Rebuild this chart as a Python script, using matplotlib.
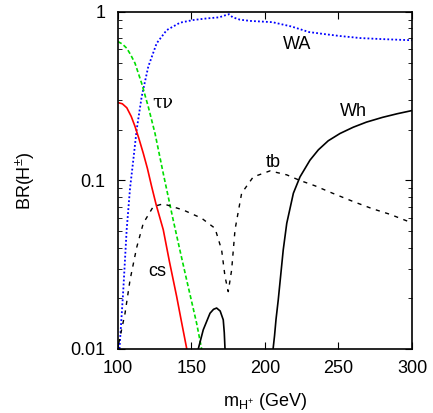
import numpy as np
import matplotlib
matplotlib.use("Agg")
import matplotlib.pyplot as plt

plt.rcParams['font.family'] = ['Liberation Sans', 'DejaVu Sans']
plt.rcParams['mathtext.fontset'] = 'custom'
plt.rcParams['mathtext.rm'] = 'Liberation Sans'
plt.rcParams['mathtext.it'] = 'Liberation Sans:italic'

# branching ratios vs charged Higgs mass (GeV)
cs_m = [100, 103, 106, 109, 111.6, 114, 117.2, 120, 122.9, 126, 130.8, 135, 139.9, 143, 146.7, 149]
cs_br = [0.29, 0.285, 0.27, 0.24, 0.209, 0.18, 0.145, 0.118, 0.092, 0.0716, 0.051, 0.033, 0.0205, 0.0148, 0.0101, 0.008]

taunu_m = [100, 103, 105.9, 108.5, 111.6, 116.1, 120.6, 125.2, 130.8, 137.6, 142, 146.7, 153.5, 156.9, 158]
taunu_br = [0.667, 0.645, 0.61, 0.56, 0.496, 0.377, 0.274, 0.19, 0.11, 0.058, 0.039, 0.0257, 0.0142, 0.010, 0.0092]

wa_m = [100.7, 101.4, 103.6, 105.9, 108.2, 110.4, 112.7, 116.1, 120.6, 126.3, 133.1, 142.2, 151.2, 160, 169,
        172, 175.5, 178, 183, 190, 205, 218, 230, 240, 251, 265, 280, 299, 300]
wa_br = [0.009, 0.0113, 0.0224, 0.051, 0.09, 0.132, 0.2, 0.314, 0.474, 0.652, 0.78, 0.864, 0.896, 0.915, 0.93,
         0.95, 0.97, 0.93, 0.90, 0.885, 0.87, 0.82, 0.76, 0.74, 0.72, 0.70, 0.69, 0.68, 0.68]

tb_m = [100, 100.2, 104.8, 108.2, 112.7, 117.2, 124, 130.8, 144.4, 156.9, 166, 170.5, 172.8, 175, 177.3,
        179.6, 184.1, 192, 203.4, 214.8, 223.8, 234, 246, 260, 273, 285, 300]
tb_br = [0.0095, 0.0105, 0.0163, 0.0257, 0.04, 0.0557, 0.07, 0.0727, 0.0668, 0.0597, 0.052, 0.0387, 0.0269,
         0.0219, 0.0294, 0.051, 0.084, 0.105, 0.114, 0.108, 0.1, 0.093, 0.084, 0.075, 0.068, 0.063, 0.056]

wh_m1 = [154, 154.6, 158, 162.6, 165, 167.1, 169.5, 171.6, 172.3, 172.8, 173.2]
wh_br1 = [0.0093, 0.010, 0.013, 0.0163, 0.0172, 0.0175, 0.0168, 0.0149, 0.0125, 0.010, 0.009]
wh_m2 = [205.3, 205.5, 206.5, 207.5, 209, 212.4, 214.8, 219.3, 223.8, 230.6, 236.3, 243, 251, 260, 269, 280, 290, 300]
wh_br2 = [0.009, 0.010, 0.012, 0.015, 0.0195, 0.0387, 0.0557, 0.084, 0.105, 0.132, 0.152, 0.172, 0.19, 0.207,
          0.222, 0.237, 0.249, 0.26]

fig = plt.figure(figsize=(4.33, 4.13), dpi=100)
ax = fig.add_axes([0.2725, 0.155, 0.679, 0.816])

ax.plot(wa_m, wa_br, color='blue', linestyle=(0, (1, 1.2)), linewidth=1.3)
ax.plot(taunu_m, taunu_br, color='#00dd00', linestyle=(0, (2.5, 1.5)), linewidth=1.2)
ax.plot(cs_m, cs_br, color='red', linewidth=1.2)
ax.plot(tb_m, tb_br, color='black', linestyle=(0, (3, 4)), linewidth=1.0)
ax.plot(wh_m1, wh_br1, color='black', linewidth=1.2)
ax.plot(wh_m2, wh_br2, color='black', linewidth=1.2)

ax.set_yscale('log')
ax.set_xlim(100, 300)
ax.set_ylim(0.01, 1)
ax.set_xticks([100, 150, 200, 250, 300])
ax.set_yticks([0.01, 0.1, 1])
ax.set_yticklabels(['0.01', '0.1', '1'])
ax.tick_params(which='both', direction='in', top=True, right=True, labelsize=13)
ax.tick_params(axis='x', pad=8)
ax.tick_params(axis='y', pad=9)
ax.tick_params(which='major', length=5)
ax.tick_params(which='minor', length=3)
for s in ax.spines.values():
    s.set_linewidth(1.2)

# curve labels
ax.text(222, 0.64, 'WA', fontsize=13, ha='center', va='center')
ax.text(260, 0.255, 'Wh', fontsize=13, ha='center', va='center')
ax.text(205.4, 0.127, 'tb', fontsize=13, ha='center', va='center')
ax.text(130.6, 0.29, 'τν', fontsize=13, ha='center', va='center', family=['DejaVu Serif'])
ax.text(126.5, 0.029, 'cs', fontsize=13, ha='center', va='center')

ax.set_xlabel(r'm$_{\mathrm{H^{+}}}$ (GeV)', fontsize=13, labelpad=10)
ax.set_ylabel(r'BR(H$^{\pm}$)', fontsize=13, labelpad=24)

fig.savefig('out.png', dpi=100)
